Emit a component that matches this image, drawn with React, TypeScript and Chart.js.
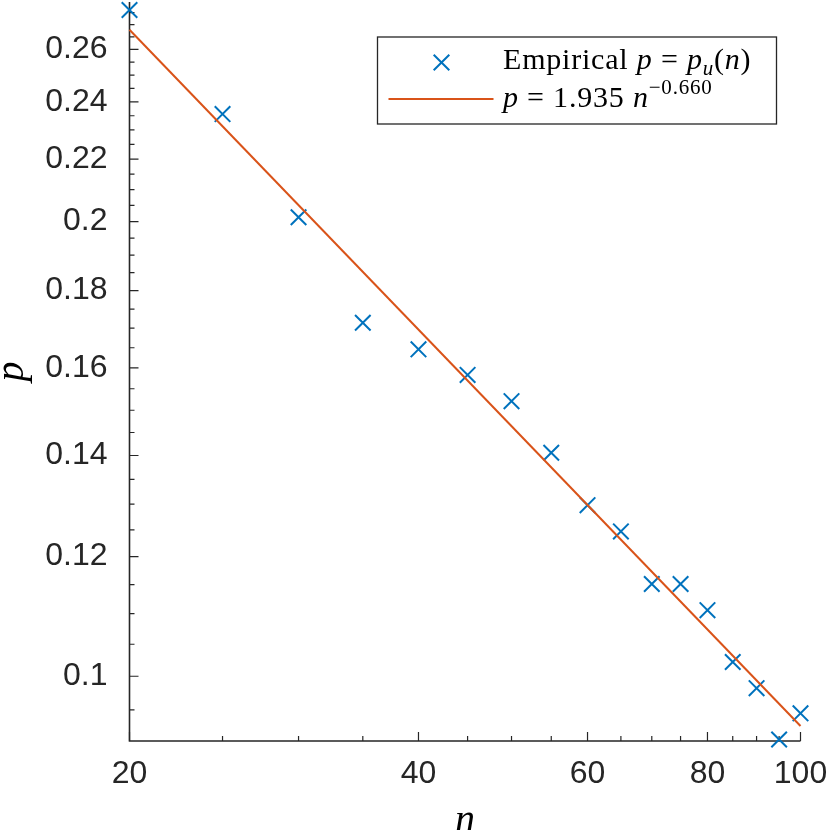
import { useEffect, useRef } from 'react';
import { Chart, registerables } from 'chart.js';

Chart.register(...registerables);

// empirical values p = p_u(n)
const nValues = [20, 25, 30, 35, 40, 45, 50, 55, 60, 65, 70, 75, 80, 85, 90, 95, 100];
const pValues = [
  0.2761, 0.2356, 0.2013, 0.1714, 0.1646, 0.1583, 0.1521, 0.1406, 0.1298,
  0.1247, 0.1151, 0.1151, 0.1106, 0.1022, 0.0982, 0.0908, 0.0945,
];

// fitted power law, end points
const fitN = [20, 100];
const fitP = [0.2679, 0.0927];

const xRange = [20, 100];
const yRange = [0.0906, 0.2795];

const xMajorTicks = [20, 40, 60, 80, 100];
const xMinorTicks = [25, 30, 35, 45, 50, 55, 65, 70, 75, 85, 90, 95];
const yMajorTicks = [0.1, 0.12, 0.14, 0.16, 0.18, 0.2, 0.22, 0.24, 0.26];
const yMinorTicks = [
  0.095, 0.105, 0.11, 0.115, 0.125, 0.13, 0.135, 0.145, 0.15, 0.155, 0.165,
  0.17, 0.175, 0.185, 0.19, 0.195, 0.205, 0.21, 0.215, 0.225, 0.23, 0.235,
  0.245, 0.25, 0.255, 0.265, 0.27, 0.275,
];

type Seg = { t: string; i?: boolean; sub?: boolean; sup?: boolean };

const legendEmpirical: Seg[] = [
  { t: 'Empirical ' },
  { t: 'p', i: true },
  { t: ' = ' },
  { t: 'p', i: true },
  { t: 'u', i: true, sub: true },
  { t: '(' },
  { t: 'n', i: true },
  { t: ')' },
];
const legendFit: Seg[] = [
  { t: 'p', i: true },
  { t: ' = 1.935 ' },
  { t: 'n', i: true },
  { t: '\u22120.660', sup: true },
];

const BLUE = '#0072BD';
const ORANGE = '#D95319';
const AXIS = '#262626';
const SERIF = '"Liberation Serif", serif';
const LEGEND_SIZE = 30;

function drawRich(ctx: CanvasRenderingContext2D, segs: Seg[], x: number, y: number, size: number) {
  let cx = x;
  (ctx as any).letterSpacing = '0.8px';
  for (const s of segs) {
    const fs = s.sub || s.sup ? size * 0.7 : size;
    ctx.font = `${s.i ? 'italic ' : ''}${fs}px ${SERIF}`;
    const dy = s.sub ? size * 0.2 : s.sup ? -size * 0.45 : 0;
    ctx.fillText(s.t, cx, y + dy);
    cx += ctx.measureText(s.t).width;
  }
  (ctx as any).letterSpacing = '0px';
}

const noPadding = (scale: any) => {
  scale.paddingTop = 0;
  scale.paddingBottom = 0;
  scale.paddingLeft = 0;
  scale.paddingRight = 0;
};

const axesPlugin = {
  id: 'matlabAxes',
  beforeDatasetsDraw(chart: any) {
    const { ctx, chartArea, scales } = chart;
    const { left, right, top, bottom } = chartArea;
    ctx.save();
    ctx.strokeStyle = AXIS;
    ctx.lineWidth = 1.2;
    ctx.beginPath();
    for (const v of xMajorTicks) {
      const px = scales.x.getPixelForValue(v);
      ctx.moveTo(px, bottom);
      ctx.lineTo(px, bottom - 9);
    }
    for (const v of xMinorTicks) {
      const px = scales.x.getPixelForValue(v);
      ctx.moveTo(px, bottom);
      ctx.lineTo(px, bottom - 5);
    }
    for (const v of yMajorTicks) {
      const py = scales.y.getPixelForValue(v);
      ctx.moveTo(left, py);
      ctx.lineTo(left + 9, py);
    }
    for (const v of yMinorTicks) {
      const py = scales.y.getPixelForValue(v);
      ctx.moveTo(left, py);
      ctx.lineTo(left + 5, py);
    }
    ctx.stroke();
    ctx.lineWidth = 1.6;
    ctx.beginPath();
    ctx.moveTo(left, top);
    ctx.lineTo(left, bottom);
    ctx.lineTo(right, bottom);
    ctx.stroke();
    ctx.restore();
  },
  afterDraw(chart: any) {
    const { ctx, chartArea } = chart;
    const bx = chartArea.right - 423;
    const by = chartArea.top + 35;
    const bw = 399;
    const bh = 87;
    ctx.save();
    ctx.fillStyle = '#ffffff';
    ctx.fillRect(bx, by, bw, bh);
    ctx.strokeStyle = AXIS;
    ctx.lineWidth = 1.3;
    ctx.strokeRect(bx, by, bw, bh);

    // marker sample
    ctx.strokeStyle = BLUE;
    ctx.lineWidth = 2;
    const mx = bx + 64;
    const my = by + 25.5;
    const h = 7.8;
    ctx.beginPath();
    ctx.moveTo(mx - h, my - h);
    ctx.lineTo(mx + h, my + h);
    ctx.moveTo(mx - h, my + h);
    ctx.lineTo(mx + h, my - h);
    ctx.stroke();

    // line sample
    ctx.strokeStyle = ORANGE;
    ctx.lineWidth = 2;
    ctx.beginPath();
    ctx.moveTo(bx + 11, by + 62);
    ctx.lineTo(bx + 116, by + 62);
    ctx.stroke();

    ctx.fillStyle = '#000000';
    ctx.textBaseline = 'alphabetic';
    ctx.textAlign = 'left';
    drawRich(ctx, legendEmpirical, bx + 125.5, by + 32, LEGEND_SIZE);
    drawRich(ctx, legendFit, bx + 125.5, by + 70, LEGEND_SIZE);
    ctx.restore();
  },
};

const tickFont = { family: '"Liberation Sans", Arial, sans-serif', size: 32 };

export default function App() {
  const canvasRef = useRef<HTMLCanvasElement | null>(null);
  const chartRef = useRef<Chart | null>(null);

  useEffect(() => {
    if (!canvasRef.current) return;
    if (chartRef.current) chartRef.current.destroy();

    chartRef.current = new Chart(canvasRef.current, {
      type: 'line',
      data: {
        datasets: [
          {
            label: 'Empirical',
            data: nValues.map((n, i) => ({ x: n, y: pValues[i] })),
            showLine: false,
            pointStyle: 'crossRot',
            pointRadius: 11,
            pointBorderWidth: 2,
            pointBorderColor: BLUE,
            pointBackgroundColor: BLUE,
            borderColor: BLUE,
            clip: false,
            order: 2,
          },
          {
            label: 'Fit',
            data: fitN.map((n, i) => ({ x: n, y: fitP[i] })),
            borderColor: ORANGE,
            borderWidth: 2,
            pointRadius: 0,
            fill: false,
            clip: false,
            order: 1,
          },
        ],
      },
      options: {
        animation: false,
        responsive: true,
        maintainAspectRatio: false,
        layout: { autoPadding: false, padding: { top: 2, right: 29.5, left: 0, bottom: 0 } },
        plugins: {
          legend: { display: false },
          tooltip: { enabled: false },
        },
        scales: {
          x: {
            type: 'logarithmic',
            min: xRange[0],
            max: xRange[1],
            afterBuildTicks: (scale: any) => {
              scale.ticks = [...xMajorTicks, ...xMinorTicks]
                .sort((a, b) => a - b)
                .map((v) => ({ value: v }));
            },
            afterFit: (scale: any) => {
              scale.height = 89;
              noPadding(scale);
            },
            grid: { display: false, drawTicks: false },
            border: { display: false },
            ticks: {
              autoSkip: false,
              maxRotation: 0,
              padding: 14,
              color: AXIS,
              font: tickFont,
              callback: (value: any) => (xMajorTicks.includes(Number(value)) ? String(value) : ''),
            },
            title: {
              display: true,
              text: 'n',
              color: '#000000',
              font: { family: SERIF, size: 40, style: 'italic', lineHeight: 0.3 },
              padding: { top: 0, bottom: 3 },
            },
          },
          y: {
            type: 'logarithmic',
            min: yRange[0],
            max: yRange[1],
            afterBuildTicks: (scale: any) => {
              scale.ticks = [...yMajorTicks, ...yMinorTicks]
                .sort((a, b) => a - b)
                .map((v) => ({ value: v }));
            },
            afterFit: (scale: any) => {
              scale.width = 129.5;
              noPadding(scale);
            },
            grid: { display: false, drawTicks: false },
            border: { display: false },
            ticks: {
              autoSkip: false,
              padding: 22,
              color: AXIS,
              font: tickFont,
              callback: (value: any) => (yMajorTicks.includes(Number(value)) ? String(value) : ''),
            },
            title: {
              display: true,
              text: 'p',
              color: '#000000',
              font: { family: SERIF, size: 40, style: 'italic', lineHeight: 0.6 },
              padding: { top: 0, bottom: 0 },
            },
          },
        },
      },
      plugins: [axesPlugin],
    });

    return () => {
      if (chartRef.current) {
        chartRef.current.destroy();
        chartRef.current = null;
      }
    };
  }, []);

  return (
    <div style={{ position: 'fixed', left: 0, top: 0, width: 830, height: 830, background: '#ffffff' }}>
      <canvas ref={canvasRef}></canvas>
    </div>
  );
}
